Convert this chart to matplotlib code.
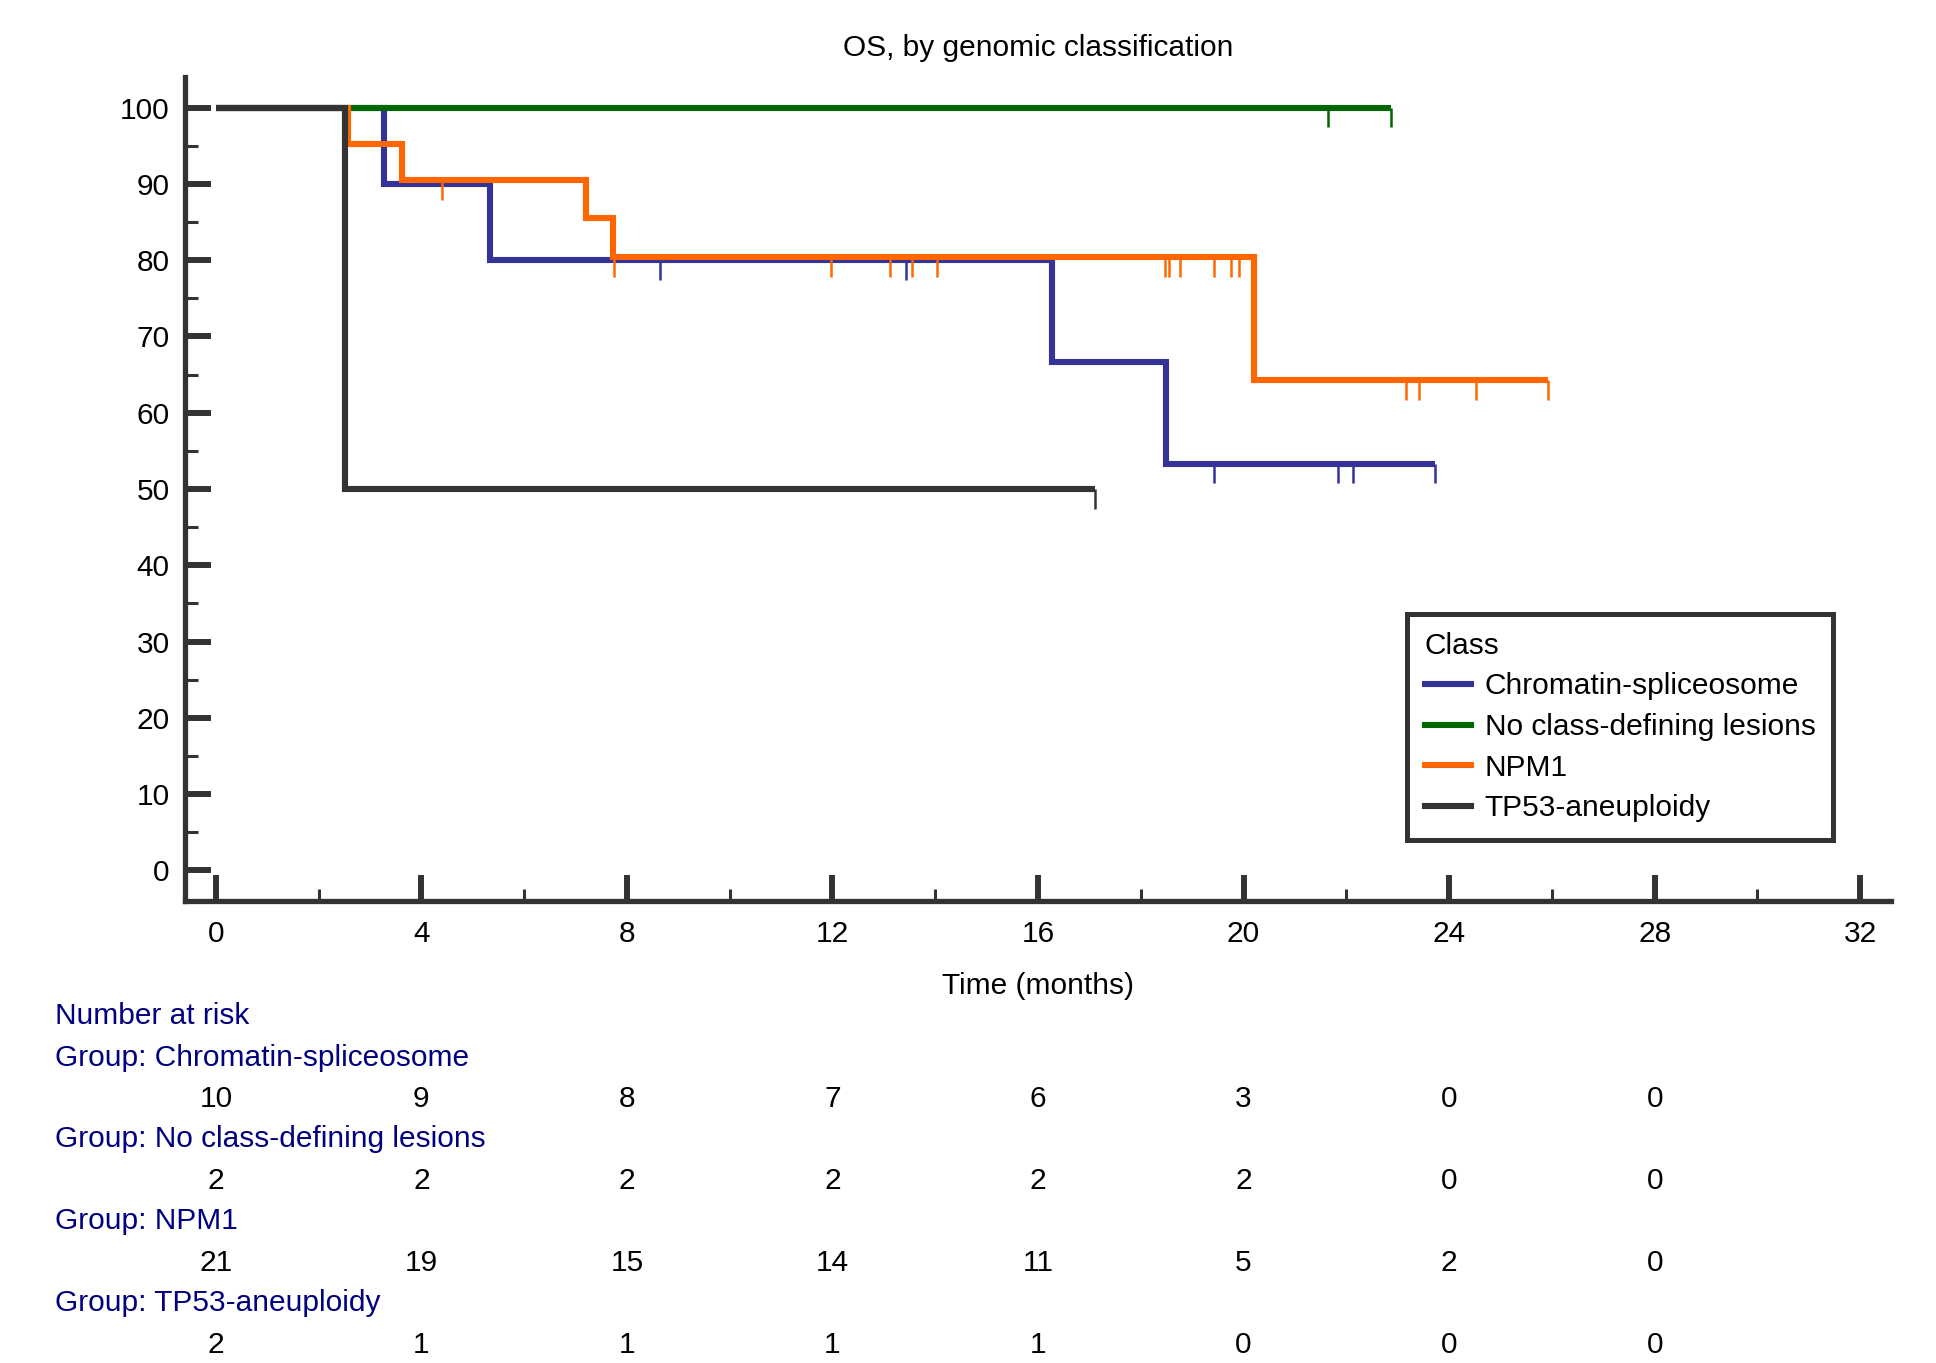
import matplotlib
matplotlib.use("Agg")
import matplotlib.pyplot as plt
import numpy as np
from matplotlib.transforms import blended_transform_factory
from matplotlib.lines import Line2D

plt.rcParams['font.family'] = ['Liberation Sans', 'DejaVu Sans']

# ---------------- data ----------------
groups = ["Chromatin-spliceosome", "No class-defining lesions", "NPM1", "TP53-aneuploidy"]
colors = ["#333399", "#006600", "#FF6600", "#333333"]

# step curves: times where the curve changes, survival (%) after each time, last = end of follow-up
chrom_t = [0, 3.27, 5.33, 16.28, 18.49, 23.72]
chrom_s = [100, 90, 80, 66.67, 53.33, 53.33]
chrom_cens = [8.65, 13.43, 19.42, 21.83, 22.13, 23.72]

nocls_t = [0, 22.86]
nocls_s = [100, 100]
nocls_cens = [21.64, 22.86]

npm1_t = [0, 2.57, 3.62, 7.21, 7.72, 20.2, 25.93]
npm1_s = [100, 95.2, 90.5, 85.5, 80.4, 64.3, 64.3]
npm1_cens = [4.41, 7.74, 11.97, 13.12, 13.54, 14.04, 18.47, 18.55, 18.76, 19.42,
             19.75, 19.92, 23.17, 23.41, 24.53, 25.93]

tp53_t = [0, 2.51, 17.1]
tp53_s = [100, 50, 50]
tp53_cens = [17.1]

risk_times = [0, 4, 8, 12, 16, 20, 24, 28]
risk_chrom = [10, 9, 8, 7, 6, 3, 0, 0]
risk_nocls = [2, 2, 2, 2, 2, 2, 0, 0]
risk_npm1 = [21, 19, 15, 14, 11, 5, 2, 0]
risk_tp53 = [2, 1, 1, 1, 1, 0, 0, 0]

x_ticks = [0, 4, 8, 12, 16, 20, 24, 28, 32]
y_ticks = [0, 10, 20, 30, 40, 50, 60, 70, 80, 90, 100]

curves = [(chrom_t, chrom_s, chrom_cens), (nocls_t, nocls_s, nocls_cens),
          (npm1_t, npm1_s, npm1_cens), (tp53_t, tp53_s, tp53_cens)]
risks = [risk_chrom, risk_nocls, risk_npm1, risk_tp53]

# ---------------- figure ----------------
W, H = 1936, 1363
fig = plt.figure(figsize=(W / 100, H / 100), dpi=100)
ax = fig.add_axes([185 / W, 1 - 901 / H, (1891 - 185) / W, (901 - 77) / H])
ax.set_xlim(-0.6, 32.6)
ax.set_ylim(-4, 104)

FS = 21.5
dark = "#333333"

for i, ((t, s, cens), col) in enumerate(zip(curves, colors)):
    ax.step(t, s, where="post", color=col, lw=4.4, solid_joinstyle="miter",
            solid_capstyle="butt", zorder=3 + i)
    t_arr = np.asarray(t)
    s_arr = np.asarray(s)
    yc = [s_arr[np.searchsorted(t_arr, c, side="right") - 1] for c in cens]
    ax.vlines(cens, np.array(yc) - 2.6, yc, colors=col, lw=1.8, zorder=3 + i)

for side in ["top", "right"]:
    ax.spines[side].set_visible(False)
for side in ["left", "bottom"]:
    ax.spines[side].set_color(dark)
    ax.spines[side].set_linewidth(3.8)

ax.set_xticks(x_ticks)
ax.set_xticks([v + 2 for v in x_ticks[:-1]], minor=True)
ax.set_yticks(y_ticks)
ax.set_yticks([v + 5 for v in y_ticks[:-1]], minor=True)
ax.tick_params(which="major", direction="in", length=19, width=4.3, color=dark, labelsize=FS)
ax.tick_params(which="minor", direction="in", length=9, width=2.2, color=dark)
ax.tick_params(axis="y", which="major", pad=11)
ax.tick_params(axis="x", which="major", pad=14)

ax.set_title("OS, by genomic classification", fontsize=FS, pad=15)
ax.set_xlabel("Time (months)", fontsize=FS, labelpad=17)

handles = [Line2D([], [], color=c, lw=4.4) for c in colors]
leg = ax.legend(handles, groups, title="Class", loc="upper left",
                bbox_to_anchor=(1407 / W, 1 - 614 / H), bbox_transform=fig.transFigure,
                fontsize=FS, title_fontsize=FS, alignment="left", frameon=True,
                fancybox=False, edgecolor=dark, framealpha=1, borderaxespad=0,
                handlelength=1.55, handletextpad=0.45, labelspacing=0.42,
                borderpad=0.6)
leg.get_frame().set_linewidth(3.6)
leg.set_zorder(10)

# ---------------- number at risk table ----------------
navy = "#000080"
trans = blended_transform_factory(ax.transData, fig.transFigure)
fig.text(55 / W, 1 - 1016 / H, "Number at risk", color=navy, fontsize=FS, va="center", ha="left")
group_y = [1058, 1139, 1221, 1303]
num_y = [1099, 1181, 1263, 1345]
for g, gy, ny, r in zip(groups, group_y, num_y, risks):
    fig.text(55 / W, 1 - gy / H, "Group: " + g, color=navy, fontsize=FS, va="center", ha="left")
    for tt, n in zip(risk_times, r):
        ax.text(tt, 1 - ny / H, str(n), transform=trans, fontsize=FS, va="center",
                ha="center", color="black", clip_on=False)

fig.savefig("out.png", dpi=100)
